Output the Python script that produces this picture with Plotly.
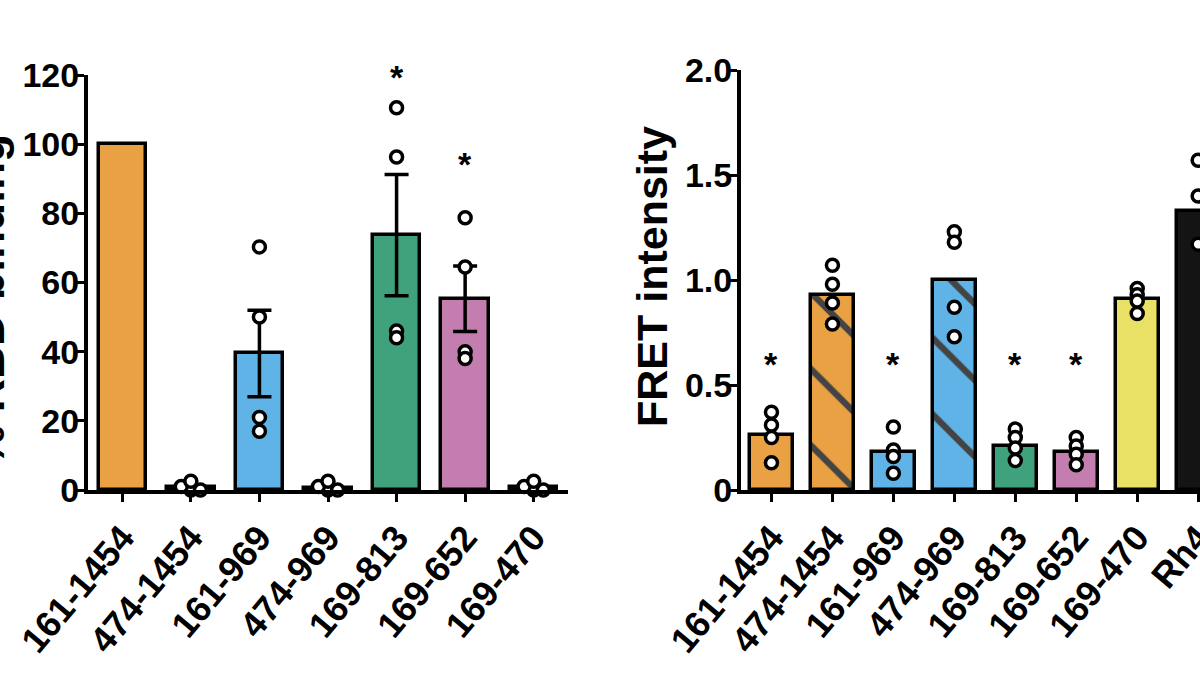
import plotly.graph_objects as go

# ---------------- data ----------------
rbd_categories = ["161-1454", "474-1454", "161-969", "474-969", "169-813", "169-652", "169-470"]
rbd_mean = [100, 0.8, 39.5, 0.6, 73.7, 55.3, 0.8]
rbd_sem = [0, 0, 12.5, 0, 17.5, 9.5, 0]
rbd_points = [
    [],
    [0, 0, 1, 2.5],
    [70.3, 50, 21, 17],
    [0, 0, 1, 2.5],
    [110.5, 96.3, 46, 44],
    [78.7, 64.5, 40, 38],
    [0, 0, 1, 2.5],
]
rbd_star = [None, None, None, None, 119.4, 94.3, None]

fret_categories = ["161-1454", "474-1454", "161-969", "474-969", "169-813", "169-652", "169-470", "Rh4"]
fret_mean = [0.26, 0.93, 0.18, 1.00, 0.21, 0.18, 0.91, 1.33]
fret_points = [
    [0.37, 0.31, 0.25, 0.13],
    [1.07, 0.98, 0.89, 0.79],
    [0.30, 0.19, 0.16, 0.08],
    [1.23, 1.18, 0.87, 0.73],
    [0.29, 0.25, 0.20, 0.14],
    [0.25, 0.21, 0.17, 0.12],
    [0.96, 0.93, 0.90, 0.84],
    [1.57, 1.40, 1.17],
]
fret_star = [0.60, None, 0.60, None, 0.60, 0.60, None, None]

rbd_ticks = [0, 20, 40, 60, 80, 100, 120]
fret_ticks = [0, 0.5, 1.0, 1.5, 2.0]
fret_ticktext = ["0", "0.5", "1.0", "1.5", "2.0"]

# ---------------- styles ----------------
ORANGE = "#EAA143"
BLUE = "#5FB3E6"
GREEN = "#3FA27C"
PINK = "#C47DAF"
YELLOW = "#E9E165"
BLACK = "#141414"
rbd_colors = [ORANGE, ORANGE, BLUE, BLUE, GREEN, PINK, YELLOW]
fret_colors = [ORANGE, ORANGE, BLUE, BLUE, GREEN, PINK, YELLOW, BLACK]
fret_hatch = ["", "\\", "", "\\", "", "", "", ""]

W, H = 1200, 675
FONT = "Liberation Sans, Arial, sans-serif"


def fx(p):
    return p / W


def fy(p):
    return 1 - p / H


def swarm(values, px_per_unit, px_per_cat, thresh=5.0, step=0.14):
    """simple beeswarm: spread only points that would sit on top of each other"""
    placed = []
    out = [0.0] * len(values)
    order = sorted(range(len(values)), key=lambda i: values[i])
    for i in order:
        for k in [0, 1, -1, 2, -2, 3, -3]:
            off = k * step
            ok = True
            for (po, pv) in placed:
                dx = (off - po) * px_per_cat
                dy = (values[i] - pv) * px_per_unit
                if (dx * dx + dy * dy) ** 0.5 < thresh:
                    ok = False
                    break
            if ok:
                out[i] = off
                placed.append((off, values[i]))
                break
    return out


fig = go.Figure()
PT_MARKER = dict(size=12, color="white", line=dict(color="black", width=3.5))

# ---------- left panel ----------
rx = list(range(len(rbd_categories)))
fig.add_trace(go.Bar(
    x=rx, y=rbd_mean, width=0.69,
    marker=dict(color=rbd_colors, line=dict(color="black", width=3.5)),
    xaxis="x", yaxis="y", showlegend=False,
))
ex = [i for i in rx if rbd_sem[i] > 0]
fig.add_trace(go.Scatter(
    x=ex, y=[rbd_mean[i] for i in ex], mode="markers",
    marker=dict(size=1, opacity=0),
    error_y=dict(type="data", array=[rbd_sem[i] for i in ex], color="black", thickness=3.5, width=12),
    xaxis="x", yaxis="y", showlegend=False, cliponaxis=False,
))
px_x, px_y = [], []
for i, vals in enumerate(rbd_points):
    offs = swarm(vals, 415 / 120, 68.5)
    for v, o in zip(vals, offs):
        px_x.append(i + o)
        px_y.append(v)
fig.add_trace(go.Scatter(
    x=px_x, y=px_y, mode="markers", marker=PT_MARKER,
    xaxis="x", yaxis="y", showlegend=False, cliponaxis=False,
))

# ---------- right panel ----------
fxs = list(range(len(fret_categories)))
fig.add_trace(go.Bar(
    x=fxs, y=fret_mean, width=0.7,
    marker=dict(
        color=fret_colors, line=dict(color="black", width=3.5),
        pattern=dict(shape=fret_hatch, fgcolor="black", fgopacity=1, size=54,
                     solidity=0.12, fillmode="overlay"),
    ),
    xaxis="x2", yaxis="y2", showlegend=False,
))
p2x, p2y = [], []
for i, vals in enumerate(fret_points):
    offs = swarm(vals, 210, 61)
    for v, o in zip(vals, offs):
        p2x.append(i + o)
        p2y.append(v)
fig.add_trace(go.Scatter(
    x=p2x, y=p2y, mode="markers", marker=PT_MARKER,
    xaxis="x2", yaxis="y2", showlegend=False, cliponaxis=False,
))

STAR_FONT = dict(family=FONT, size=34, color="black", weight="bold")
annotations = []
for i in rx:
    if rbd_star[i] is not None:
        annotations.append(dict(text="*", x=i, y=rbd_star[i], xref="x", yref="y",
                                showarrow=False, xanchor="center", yanchor="middle",
                                font=STAR_FONT))
for i in fxs:
    if fret_star[i] is not None:
        annotations.append(dict(text="*", x=i, y=fret_star[i], xref="x2", yref="y2",
                                showarrow=False, xanchor="center", yanchor="middle",
                                font=STAR_FONT))
annotations += [
    dict(text="% RBD binding", textangle=-90, xref="paper", yref="paper",
         x=fx(15), y=fy(300), xanchor="right", yanchor="middle", showarrow=False,
         borderpad=0, font=dict(family=FONT, size=46, color="black", weight="bold")),
    dict(text="FRET intensity", textangle=-90, xref="paper", yref="paper",
         x=fx(677), y=fy(277), xanchor="right", yanchor="middle", showarrow=False,
         borderpad=0, font=dict(family=FONT, size=43, color="black", weight="bold")),
]

axis_common = dict(
    showline=True, linecolor="black", linewidth=4,
    ticks="outside", ticklen=8, tickwidth=3, tickcolor="black",
    showgrid=False, zeroline=False, automargin=False,
)
xfont = dict(family=FONT, size=36, color="black", weight="bold")
yfont = dict(family=FONT, size=34, color="black", weight="bold")

fig.update_layout(
    width=W, height=H,
    margin=dict(l=0, r=0, t=0, b=0, autoexpand=False),
    paper_bgcolor="white", plot_bgcolor="rgba(0,0,0,0)",
    bargap=0, barmode="overlay",
    xaxis=dict(domain=[fx(88), fx(568)], range=[-0.5, 6.5], tickmode="array",
               tickvals=rx, ticktext=rbd_categories, tickangle=-50, anchor="y",
               tickfont=xfont, ticklabeloverflow="allow", **axis_common),
    yaxis=dict(domain=[fy(490), fy(75)], range=[0, 120], tickmode="array",
               tickvals=rbd_ticks, anchor="x", tickfont=yfont, ticklabelstandoff=-10,
               ticklabeloverflow="allow", **axis_common),
    xaxis2=dict(domain=[fx(741), 1.0], range=[-0.5, 7.03], tickmode="array",
                tickvals=fxs, ticktext=fret_categories, tickangle=-50, anchor="y2",
                tickfont=xfont, ticklabeloverflow="allow", **axis_common),
    yaxis2=dict(domain=[fy(490), fy(70)], range=[0, 2.0], tickmode="array",
                tickvals=fret_ticks, ticktext=fret_ticktext, anchor="x2", tickfont=yfont,
                ticklabelstandoff=-10, ticklabeloverflow="allow", **axis_common),
    annotations=annotations,
)

fig.write_html("out.html")
